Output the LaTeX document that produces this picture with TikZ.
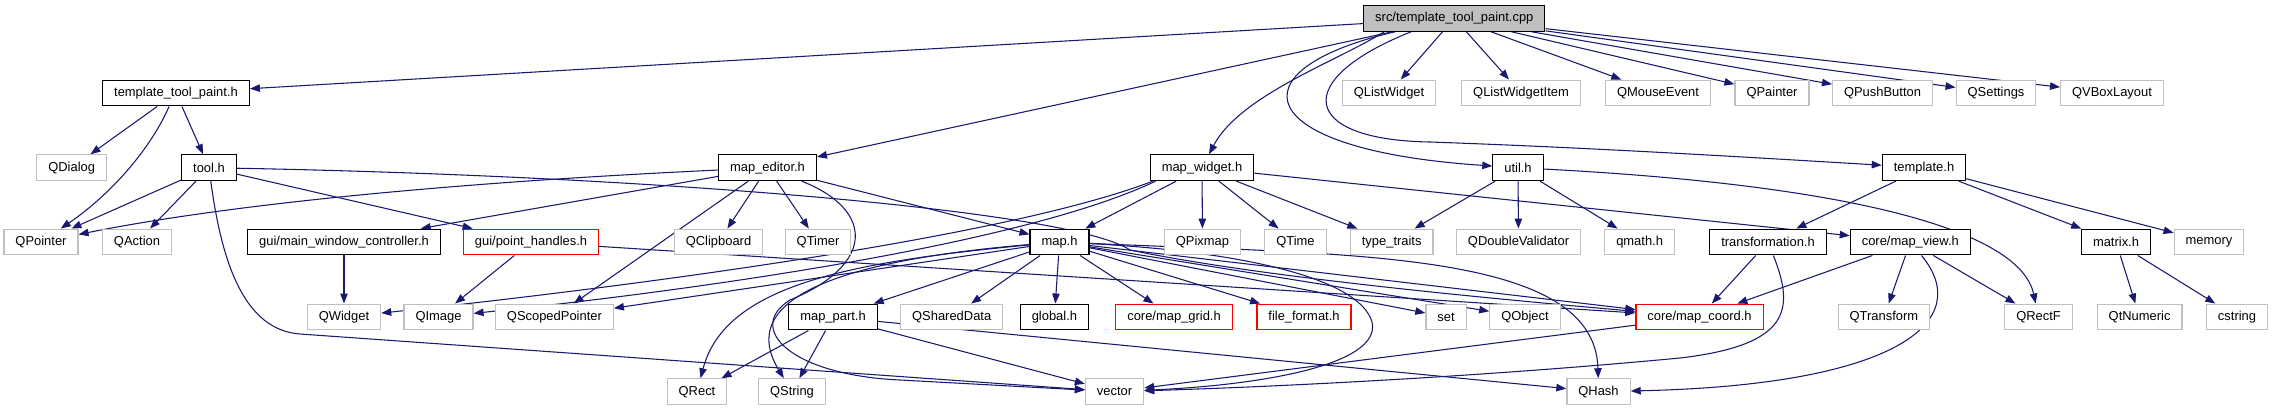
\documentclass[tikz,border=0pt]{standalone}
\usepackage{fontspec}
\setmainfont{Liberation Sans}
\usetikzlibrary{arrows.meta,calc,backgrounds}

\begin{document}
\begin{tikzpicture}[x=0.75pt, y=-0.75pt, font=\fontsize{9.7}{11.6}\selectfont]
    % --- Colours and styles ---
    \definecolor{edgeblue}{HTML}{191970}
    \definecolor{extgray}{HTML}{BFBFBF}
    \tikzset{
        filebox/.style={draw=black, line width=0.9pt, fill=white, inner xsep=8.6pt, inner ysep=0pt, minimum height=19.3pt},
        rootbox/.style={filebox, fill=extgray},
        redbox/.style={filebox, draw=red},
        extbox/.style={filebox, draw=extgray},
        dep/.style={draw=edgeblue, line width=0.8pt, -{Triangle[length=7.5pt, width=5.6pt]}}
    }
    \useasboundingbox (0,0) rectangle (2273,411);

    % --- Documented files ---
    \node[rootbox] (root) at (1454.3,18.3) {src/template\_tool\_paint.cpp};
    \foreach \id/\x/\y/\txt in {
        ttph/176/93/{template\_tool\_paint.h},
        tool/209/167.7/{tool.h},
        medit/767.5/167.7/{map\_editor.h},
        mwidget/1202/167.7/{map\_widget.h},
        util/1518/167.7/{util.h},
        tmpl/1924/167.7/{template.h},
        mwc/344/242/{gui/main\_window\_controller.h},
        maph/1059.5/242/{map.h},
        transf/1768/242/{transformation.h},
        mview/1910.3/242/{core/map\_view.h},
        matrix/2116/242/{matrix.h},
        mpart/833/317/{map\_part.h},
        globalh/1054.4/317/{global.h}
    } {
        \node[filebox] (\id) at (\x,\y) {\txt};
    }

    % --- Files without documentation ---
    \foreach \id/\x/\y/\txt in {
        phandles/531/242/{gui/point\_handles.h},
        mgrid/1174/317/{core/map\_grid.h},
        ffmt/1304/317/{file\_format.h},
        mcoord/1699.5/317/{core/map\_coord.h}
    } {
        \node[redbox] (\id) at (\x,\y) {\txt};
    }

    % --- External headers ---
    \foreach \id/\x/\y/\txt in {
        qlistwidget/1389/93/QListWidget,
        qlistitem/1521/93/QListWidgetItem,
        qmouse/1658/93/QMouseEvent,
        qpainter/1772/93/QPainter,
        qpush/1882.5/93/QPushButton,
        qsettings/1996/93/QSettings,
        qvbox/2112/93/QVBoxLayout,
        qdialog/71.7/167.7/QDialog,
        qpointer/41/242/QPointer,
        qaction/137/242/QAction,
        qclip/718.5/242/QClipboard,
        qtimer/818/242/QTimer,
        qpixmap/1202.5/242/QPixmap,
        qtime/1295.5/242/QTime,
        ttraits/1391.7/242/type\_traits,
        qdoubleval/1518.5/242/QDoubleValidator,
        qmath/1639.6/242/qmath.h,
        memory/2209/242/memory,
        qwidget/344/317/QWidget,
        qimage/438.5/317/QImage,
        qscoped/554.4/317/QScopedPointer,
        qshared/951.7/317/QSharedData,
        setn/1446/317/set,
        qobject/1525/317/QObject,
        qtransform/1883.9/317/QTransform,
        qrectf/2038.5/317/QRectF,
        qtnumeric/2139.6/317/QtNumeric,
        cstring/2237/317/cstring,
        qrect/697/391.7/QRect,
        qstring/792/391.7/QString,
        vector/1114.5/391.7/vector,
        qhash/1598.5/391.7/QHash
    } {
        \node[extbox] (\id) at (\x,\y) {\txt};
    }

    \begin{scope}[on background layer]
    % --- src/template_tool_paint.cpp ---
    \foreach \t in {ttph, medit, qlistwidget, qlistitem, qmouse, qpainter, qpush, qsettings, qvbox}
        \draw[dep] (root) -- (\t);
    \draw[dep] ($(root.south west)+(21,0)$) .. controls (1340,60) and (1240,95) .. (mwidget);
    \draw[dep] ($(root.south west)+(32,0)$) .. controls (1230,70) and (1250,150) .. (util);
    \draw[dep] ($(root.south west)+(48,0)$) .. controls (1290,80) and (1300,140) .. (1430,142)
        .. controls (1600,148) and (1760,158) .. (tmpl);

    % --- template_tool_paint.h and tool.h ---
    \draw[dep] (ttph) -- (qdialog);
    \draw[dep] (ttph) -- (tool);
    \draw[dep] ($(ttph.south west)+(67,0)$) .. controls (150,150) and (110,195) .. (qpointer);
    \foreach \t in {qpointer, qaction, phandles}
        \draw[dep] (tool) -- (\t);
    \draw[dep] (tool) .. controls (222,265) and (245,330) .. (300,334) -- (vector);
    \draw[dep] (tool) .. controls (650,176) and (1070,210) .. (1130,250)
        .. controls (1250,275) and (1450,295) .. (mcoord);
    \draw[dep] (phandles) -- (qimage);
    \draw[dep] (phandles) -- (mcoord);
    \draw[dep] (mwc) -- (qwidget);

    % --- map_editor.h ---
    \draw[dep] (medit) .. controls (400,185) and (200,210) .. (qpointer);
    \foreach \t in {mwc, qscoped, qclip, qtimer, maph}
        \draw[dep] (medit) -- (\t);
    \draw[dep] (medit) .. controls (875,210) and (875,265) .. (790,300)
        .. controls (745,328) and (790,375) .. (900,380) -- (vector);

    % --- map_widget.h ---
    \foreach \t in {maph, qpixmap, qtime, ttraits, mview}
        \draw[dep] (mwidget) -- (\t);
    \draw[dep] ($(mwidget.south west)+(3,0)$) .. controls (1000,240) and (600,290) .. (qwidget);
    \draw[dep] ($(mwidget.south west)+(6,0)$) .. controls (1010,250) and (650,295) .. (qimage);

    % --- map.h and map_part.h ---
    \foreach \t in {qscoped, mpart, qshared, globalh, mgrid, ffmt, setn, qobject, mcoord}
        \draw[dep] (maph) -- (\t);
    \draw[dep] (maph) .. controls (1350,255) and (1595,250) .. (qhash);
    \draw[dep] (maph) .. controls (850,262) and (725,285) .. (qrect);
    \draw[dep] (maph) .. controls (870,258) and (730,290) .. (qstring);
    \draw[dep] (maph) .. controls (1250,252) and (1360,280) .. (1372,322)
        .. controls (1382,365) and (1260,385) .. (vector);
    \foreach \t in {qrect, qstring, vector, qhash}
        \draw[dep] (mpart) -- (\t);

    % --- util.h, template.h and below ---
    \foreach \t in {ttraits, qdoubleval, qmath}
        \draw[dep] (util) -- (\t);
    \draw[dep] (util) .. controls (1850,185) and (2020,230) .. (qrectf);
    \foreach \t in {transf, matrix, memory}
        \draw[dep] (tmpl) -- (\t);
    \draw[dep] (transf) -- (mcoord);
    \draw[dep] (transf) .. controls (1795,310) and (1790,345) .. (1680,358)
        .. controls (1500,375) and (1300,386) .. (vector);
    \foreach \t in {mcoord, qtransform, qrectf}
        \draw[dep] (mview) -- (\t);
    \draw[dep] (mview) .. controls (1975,320) and (1900,385) .. (qhash);
    \draw[dep] (matrix) -- (qtnumeric);
    \draw[dep] (matrix) -- (cstring);
    \draw[dep] (mcoord) -- (vector);
    \end{scope}
\end{tikzpicture}
\end{document}
